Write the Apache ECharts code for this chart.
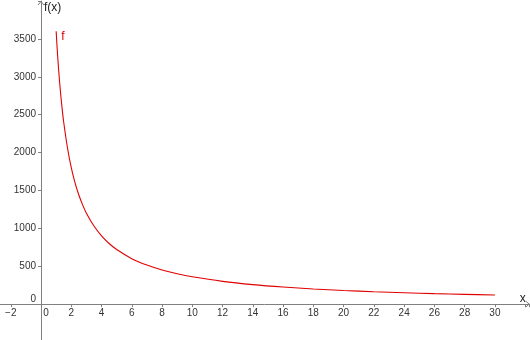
<!DOCTYPE html>
<html>
<head>
<meta charset="utf-8">
<script src="https://cdn.jsdelivr.net/npm/echarts@6/dist/echarts.min.js"></script>
<style>
html,body{margin:0;padding:0;background:#fff;}
#c{width:530px;height:340px;}
</style>
</head>
<body>
<div id="c"></div>
<script>
// Values
const xValues = [1, 1.1, 1.2, 1.3, 1.4, 1.5, 1.75, 2, 2.25, 2.5, 2.75, 3, 3.5, 4, 4.5, 5, 6, 7, 8, 9, 10, 12, 14, 16, 18, 20, 22, 24, 26, 28, 30];
const yValues = [3600, 3270, 3000, 2770, 2570, 2400, 2060, 1800, 1600, 1440, 1310, 1200, 1030, 900, 800, 720, 600, 515, 450, 400, 360, 300, 257, 225, 200, 180, 164, 150, 138, 129, 120];
const seriesName = 'f';
const xAxisName = 'x';
const yAxisName = 'f(x)';
const xRange = [-4, 32.3];
const yRange = [-500, 4000];
const xStep = 2;
const yStep = 500;

const axisColor = '#808080';
const textColor = '#333333';
const curveColor = '#e00000';
const fontFam = '"Liberation Sans", Arial, sans-serif';

const data = xValues.map((x, i) => {
  if (i === 0) {
    return {
      value: [x, yValues[i]],
      label: {show: true, formatter: seriesName, position: 'right', distance: 5, offset: [0, 5],
              color: curveColor, fontSize: 12, fontFamily: fontFam}
    };
  }
  return [x, yValues[i]];
});

function fmtNum(v) {
  return v < 0 ? '\u2212' + Math.abs(v) : String(v);
}

const chart = echarts.init(document.getElementById('c'), null, {renderer: 'canvas'});
chart.setOption({
  animation: false,
  backgroundColor: '#ffffff',
  grid: {left: -19.5, right: 0.3, top: 1, bottom: -2, containLabel: false, outerBoundsMode: 'none'},
  xAxis: {
    type: 'value', min: xRange[0], max: xRange[1], interval: xStep, position: 'bottom',
    splitLine: {show: false},
    axisLine: {show: true, onZero: false, lineStyle: {color: axisColor, width: 1}},
    axisTick: {show: true, length: 3, lineStyle: {color: axisColor}},
    axisLabel: {
      show: true,
      margin: 4, color: textColor, fontSize: 10, fontFamily: fontFam,
      formatter: function (v) {
        if (v === 0) return '{z|0}';
        if (v < -2 || v > 30) return '';
        return fmtNum(v);
      },
      rich: {z: {padding: [0, 0, 0, 10], fontSize: 10, color: textColor, fontFamily: fontFam}}
    }
  },
  yAxis: {
    type: 'value', min: yRange[0], max: yRange[1], interval: yStep, position: 'left',
    splitLine: {show: false},
    axisLine: {show: true, onZero: false, lineStyle: {color: axisColor, width: 1}},
    axisTick: {show: true, length: 3, lineStyle: {color: axisColor}},
    axisLabel: {
      show: true,
      margin: 5, color: textColor, fontSize: 10, fontFamily: fontFam,
      formatter: function (v) {
        if (v === 0) return '{z|0}';
        if (v < 0 || v > 3500) return '';
        return fmtNum(v);
      },
      rich: {z: {padding: [0, 0, 10, 0], fontSize: 10, color: textColor, fontFamily: fontFam}}
    }
  },
  series: [{
    name: seriesName,
    type: 'line',
    data: data,
    smooth: 0.3,
    showSymbol: true,
    symbol: 'circle',
    symbolSize: 0,
    clip: true,
    lineStyle: {color: curveColor, width: 1.1},
    itemStyle: {color: curveColor}
  }]
});

// move the axes onto the origin (x = 0, y = 0)
const origin = chart.convertToPixel({gridIndex: 0}, [0, 0]);
const corner = chart.convertToPixel({gridIndex: 0}, [xRange[0], yRange[0]]);
const yTip = chart.convertToPixel({gridIndex: 0}, [0, yRange[1]]);
const xTip = chart.convertToPixel({gridIndex: 0}, [xRange[1], 0]);
chart.setOption({
  xAxis: {offset: -(corner[1] - origin[1])},
  yAxis: {offset: -(origin[0] - corner[0])},
  graphic: [
    {type: 'polyline', shape: {points: [[yTip[0] - 3, yTip[1] + 4], [yTip[0], yTip[1] + 0.5], [yTip[0] + 3, yTip[1] + 4]]},
     style: {stroke: axisColor, fill: null, lineWidth: 1}, z: 10},
    {type: 'polyline', shape: {points: [[xTip[0] - 4, xTip[1] - 3], [xTip[0] - 0.5, xTip[1]], [xTip[0] - 4, xTip[1] + 3]]},
     style: {stroke: axisColor, fill: null, lineWidth: 1}, z: 10},
    {type: 'text', x: yTip[0] + 3, y: yTip[1] + 7,
     style: {text: yAxisName, fill: '#222', fontSize: 12, fontFamily: fontFam, verticalAlign: 'middle', align: 'left'}, z: 10},
    {type: 'text', x: xTip[0] - 7, y: xTip[1] - 5,
     style: {text: xAxisName, fill: '#222', fontSize: 12, fontFamily: fontFam, verticalAlign: 'middle', align: 'center'}, z: 10}
  ]
});
</script>
</body>
</html>
